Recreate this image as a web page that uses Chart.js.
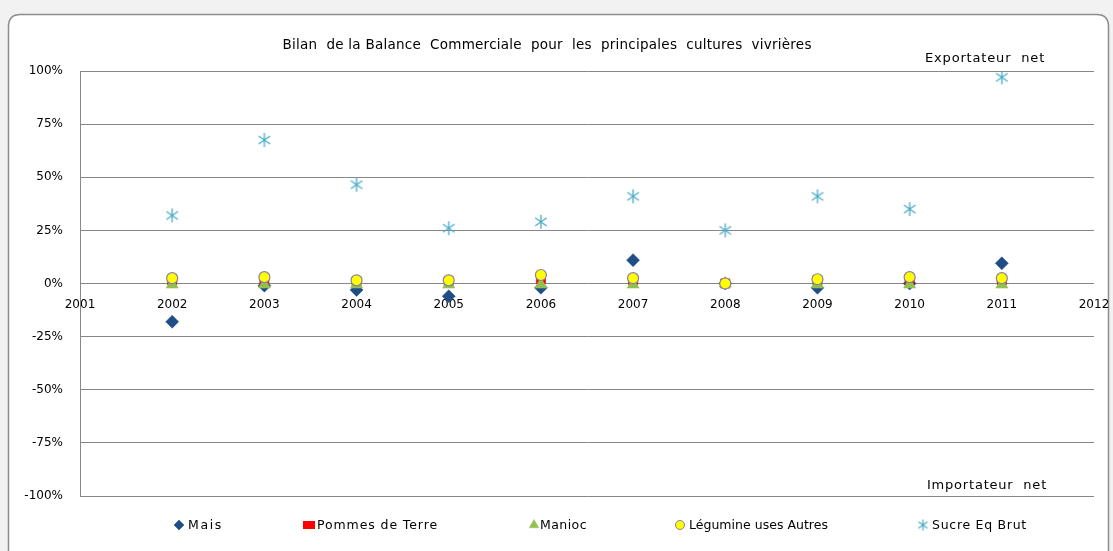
<!DOCTYPE html>
<html><head><meta charset="utf-8">
<script src="https://cdn.jsdelivr.net/npm/chart.js@4.4.1/dist/chart.umd.min.js"></script>
<style>
html,body{margin:0;padding:0;background:#f2f2f2;}
#wrap{position:absolute;left:0;top:0;width:1113px;height:551px;}
</style></head>
<body><div id="wrap"><canvas id="c" width="1113" height="551"></canvas></div>
<script>
const years = [2002,2003,2004,2005,2006,2007,2008,2009,2010,2011];
const mais =        [-18, -1, -3, -6, -2, 11, 0, -2, 0, 9.5];
const pommes =      [1.5, 1.5, 1, 1, 2, 1.5, 0, 1.5, 1.5, 1.5];
const manioc =      [-0.5, -0.5, -0.5, -0.5, -0.5, -0.5, 0, -0.5, -0.5, -0.5];
const legumineuses =[2.5, 3, 1.5, 1.5, 4, 2.5, 0, 2, 3, 2.5];
const sucre =       [32, 67.5, 46.5, 26, 29, 41, 25, 41, 35, 97];
const yTicks = [-100,-75,-50,-25,0,25,50,75,100];
const titleText = 'Bilan  de la Balance  Commerciale  pour  les  principales  cultures  vivrières';
const seriesNames = ['Mais','Pommes de Terre','Manioc','Légumine uses Autres','Sucre Eq Brut'];

const FONT = '"DejaVu Sans", Verdana, sans-serif';

function starCanvas(r, color, lw){
  const c = document.createElement('canvas');
  c.width = r*2+2; c.height = r*2+2;
  const g = c.getContext('2d');
  g.strokeStyle = color; g.lineWidth = lw;
  const cx = r+1, cy = r+1;
  g.beginPath();
  g.moveTo(cx, cy-r); g.lineTo(cx, cy+r);
  const d = r*0.82;
  g.moveTo(cx-d, cy-d*0.7); g.lineTo(cx+d, cy+d*0.7);
  g.moveTo(cx-d, cy+d*0.7); g.lineTo(cx+d, cy-d*0.7);
  g.stroke();
  return c;
}
const starImg = starCanvas(7, '#4bacc6', 1.3);
const starSmall = starCanvas(5.5, '#4bacc6', 1.2);

function pts(arr){ return years.map((y,i)=>({x:y, y:arr[i]})); }

const datasets = [
  {label: seriesNames[0], data: pts(mais), pointStyle:'rectRot', pointRadius:6.5, backgroundColor:'#1f4e87', borderColor:'#1f4e87', borderWidth:0.5, order:5},
  {label: seriesNames[1], data: pts(pommes), pointStyle:'rect', pointRadius:6.5, backgroundColor:'#ff0000', borderColor:'#c00000', borderWidth:0.5, order:4},
  {label: seriesNames[2], data: pts(manioc), pointStyle:'triangle', pointRadius:7, backgroundColor:'#92c050', borderColor:'#92c050', borderWidth:0.5, order:3},
  {label: seriesNames[3], data: pts(legumineuses), pointStyle:'circle', pointRadius:5.5, backgroundColor:'#ffff00', borderColor:'#8a7fa0', borderWidth:1.2, order:2},
  {label: seriesNames[4], data: pts(sucre), pointStyle:starImg, pointRadius:7, backgroundColor:'#4bacc6', borderColor:'#4bacc6', order:1},
];
datasets.forEach(d=>{ d.showLine=false; d.pointHoverRadius=d.pointRadius; });

const legendLayout = [
  {mx:179, tx:188, tw:35},
  {mx:309, tx:317, tw:121},
  {mx:534, tx:540, tw:47},
  {mx:680, tx:689, tw:139},
  {mx:923, tx:932, tw:95},
];

function fitText(ctx, text, x, y, width, align, minSize, maxSize){
  ctx.letterSpacing = '0px';
  ctx.font = '10px ' + FONT;
  const w10 = ctx.measureText(text).width;
  let size = Math.max(minSize, Math.min(maxSize, 10 * width / w10));
  ctx.font = size.toFixed(2) + 'px ' + FONT;
  const w = ctx.measureText(text).width;
  const ls = (width - w) / text.length;
  ctx.letterSpacing = ls.toFixed(2) + 'px';
  let sx = x;
  if (align === 'center') sx = x - width/2;
  ctx.textAlign = 'left';
  ctx.fillText(text, sx, y);
  ctx.letterSpacing = '0px';
}

const framePlugin = {
  id:'frame',
  beforeDraw(chart){
    const ctx = chart.ctx;
    ctx.save();
    ctx.fillStyle = '#f2f2f2';
    ctx.fillRect(0,0,chart.width,chart.height);
    const x=8.5,y=14.5,w=1100,h=560,r=12;
    ctx.beginPath();
    ctx.moveTo(x+r,y); ctx.lineTo(x+w-r,y); ctx.quadraticCurveTo(x+w,y,x+w,y+r);
    ctx.lineTo(x+w,y+h); ctx.lineTo(x,y+h); ctx.lineTo(x,y+r); ctx.quadraticCurveTo(x,y,x+r,y);
    ctx.closePath();
    ctx.fillStyle='#ffffff'; ctx.fill();
    ctx.strokeStyle='#8c8c8c'; ctx.lineWidth=1.5; ctx.stroke();
    ctx.restore();
  },
  afterDraw(chart){
    const ctx = chart.ctx;
    ctx.save();
    ctx.fillStyle='#000';
    ctx.textBaseline='middle';
    fitText(ctx, titleText, 547, 45, 529, 'center', 11, 13.5);
    fitText(ctx, 'Exportateur  net', 985, 59, 120, 'center', 11, 13);
    fitText(ctx, 'Importateur  net', 987, 486, 120, 'center', 11, 13);
    const ly = 525;
    chart.data.datasets.forEach((ds,i)=>{
      const L = legendLayout[i];
      ctx.save();
      ctx.fillStyle = ds.backgroundColor; ctx.strokeStyle = ds.borderColor; ctx.lineWidth = ds.borderWidth||0.5;
      if (i === 0) {
        Chart.helpers.drawPoint(ctx, {pointStyle:'rectRot', radius:5, rotation:0, borderWidth:0.5}, L.mx, ly);
      } else if (i === 1) {
        ctx.fillRect(L.mx-6, ly-4, 12, 8);
      } else if (i === 2) {
        Chart.helpers.drawPoint(ctx, {pointStyle:'triangle', radius:5.5, rotation:0, borderWidth:0.5}, L.mx, ly);
      } else if (i === 3) {
        ctx.lineWidth = 1;
        Chart.helpers.drawPoint(ctx, {pointStyle:'circle', radius:4.5, rotation:0, borderWidth:1}, L.mx, ly);
      } else {
        ctx.drawImage(starSmall, L.mx - starSmall.width/2, ly - starSmall.height/2);
      }
      ctx.restore();
      ctx.fillStyle='#000';
      fitText(ctx, ds.label, L.tx, ly+1, L.tw, 'left', 11, 12.5);
    });
    ctx.restore();
  }
};

function noPad(s){ s.paddingLeft = 0; s.paddingRight = 0; s.paddingTop = 0; s.paddingBottom = 0; }

new Chart(document.getElementById('c'), {
  type:'scatter',
  data:{datasets},
  options:{
    responsive:false, animation:false,
    layout:{padding:{left:0, top:71, right:19, bottom:55}},
    plugins:{legend:{display:false}, tooltip:{enabled:false}, title:{display:false}},
    scales:{
      x:{
        type:'linear', min:2001, max:2012, position:{y:0},
        afterFit: noPad,
        grid:{display:false, drawTicks:false},
        border:{display:false},
        ticks:{stepSize:1, padding:14, color:'#000', font:{family:FONT, size:12}, callback:v=>String(v), maxRotation:0, autoSkip:false}
      },
      y:{
        min:-100, max:100,
        afterFit(s){ s.width = 80; noPad(s); },
        afterBuildTicks(s){ s.ticks = yTicks.map(v=>({value:v})); },
        grid:{color:'#878787', lineWidth:1, drawTicks:false},
        border:{display:true, color:'#878787', width:1},
        ticks:{padding:17, color:'#000', font:{family:FONT, size:12}, callback:v=>v+'%'}
      }
    }
  },
  plugins:[framePlugin]
});
</script></body></html>
